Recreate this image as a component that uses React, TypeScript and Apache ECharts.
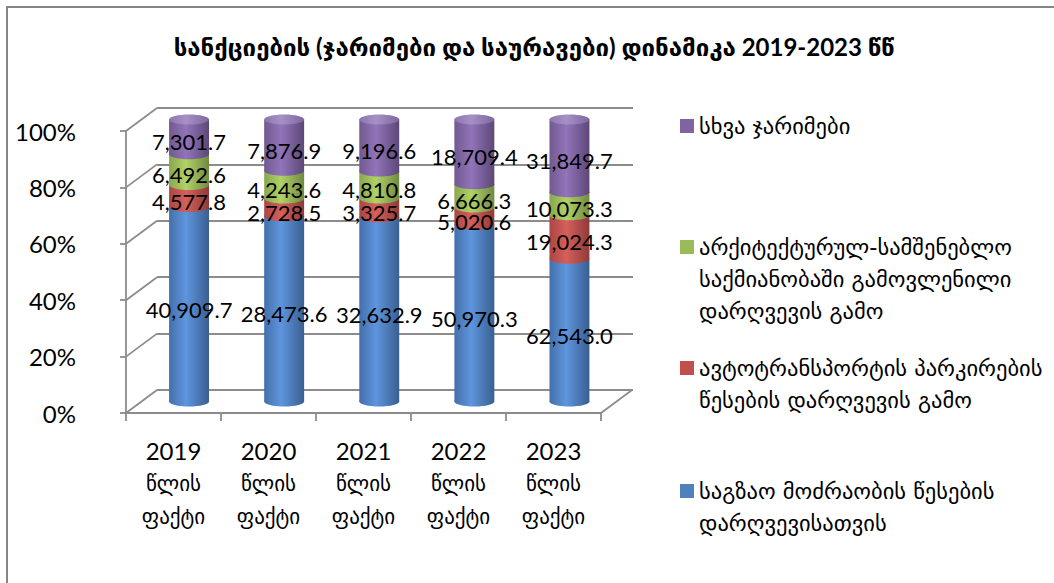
import React, { useEffect, useRef } from 'react';
import * as echarts from 'echarts';

// ---------- data ----------
const categories = ['2019', '2020', '2021', '2022', '2023'];
const categorySuffix = ['წლის', 'ფაქტი'];
const yTicks = [0, 20, 40, 60, 80, 100];

const seriesNames = [
  'საგზაო მოძრაობის წესების\nდარღვევისათვის',
  'ავტოტრანსპორტის პარკირების\nწესების დარღვევის გამო',
  'არქიტექტურულ-სამშენებლო\nსაქმიანობაში გამოვლენილი\nდარღვევის გამო',
  'სხვა ჯარიმები',
];
const roadTraffic = [40909.7, 28473.6, 32632.9, 50970.3, 62543.0];
const parking = [4577.8, 2728.5, 3325.7, 5020.6, 19024.3];
const construction = [6492.6, 4243.6, 4810.8, 6666.3, 10073.3];
const otherFines = [7301.7, 7876.9, 9196.6, 18709.4, 31849.7];
const allSeries = [roadTraffic, parking, construction, otherFines];

const titleText = 'სანქციების (ჯარიმები და საურავები) დინამიკა 2019-2023 წწ';

// ---------- styling ----------
const palette = [
  { base: '#4f81bd', stops: ['#4470ab', '#5e95dd', '#3a5f92'] },
  { base: '#c0504d', stops: ['#aa4644', '#d65f5c', '#8e3b39'] },
  { base: '#9bbb59', stops: ['#89a64e', '#b0d267', '#718a40'] },
  { base: '#8064a2', stops: ['#71598f', '#9274ba', '#5c4876'] },
];
const capStops = ['#8d76ad', '#a690c6', '#7f67a0'];
const GRID_COLOR = '#8c8c8c';
const NUM_FONT = 'Lato, "DejaVu Sans", sans-serif';
const GEO_FONT = '"DejaVu Sans", sans-serif';

const FRONT = { left: 126, top: 131, width: 475, height: 282 };
const BACK = { left: 157, top: 108, width: 476, height: 282 };
const MID = {
  left: (FRONT.left + BACK.left) / 2,
  top: (FRONT.top + BACK.top) / 2,
  width: (FRONT.width + BACK.width) / 2,
  height: 282,
};
const DX = BACK.left - FRONT.left;
const DY = BACK.top - FRONT.top;

const fmt = (v: number) =>
  v.toLocaleString('en-US', { minimumFractionDigits: 1, maximumFractionDigits: 1 });

const grad = (s: string[]) =>
  new echarts.graphic.LinearGradient(0, 0, 1, 0, [
    { offset: 0, color: s[0] },
    { offset: 0.42, color: s[1] },
    { offset: 1, color: s[2] },
  ]);

function buildStacked() {
  const totals = categories.map((_, i) => allSeries.reduce((a, s) => a + s[i], 0));
  const cum = categories.map(() => 0);
  return allSeries.map((s) =>
    s.map((v, i) => {
      const start = cum[i];
      cum[i] = start + (v / totals[i]) * 100;
      return [i, start, cum[i], v];
    })
  );
}

export default function App() {
  const ref = useRef<HTMLDivElement>(null);

  useEffect(() => {
    if (!ref.current) return;
    const chart = echarts.init(ref.current, null, { renderer: 'svg' });
    const stacked = buildStacked();

    const cylinderSeries = stacked.map((data, k) => ({
      type: 'custom',
      name: seriesNames[k],
      xAxisIndex: 2,
      yAxisIndex: 2,
      itemStyle: { color: palette[k].base },
      encode: { x: 0, y: [1, 2] },
      data,
      renderItem: (params: any, api: any) => {
        const i = api.value(0);
        const start = api.value(1);
        const end = api.value(2);
        const raw = api.value(3);
        const pb = api.coord([i, start]);
        const pt = api.coord([i, end]);
        const bw = api.size([1, 0])[0] * 0.42;
        const rx = bw / 2;
        const ry = 5;
        const cx = pb[0];
        const fill = grad(palette[k].stops);
        const children: any[] = [
          {
            type: 'rect',
            shape: { x: cx - rx, y: pt[1], width: bw, height: pb[1] - pt[1] },
            style: { fill },
            z2: k * 3,
          },
          {
            type: 'ellipse',
            shape: { cx, cy: pb[1], rx, ry },
            style: { fill },
            z2: k * 3,
          },
        ];
        if (end >= 99.999) {
          children.push({
            type: 'ellipse',
            shape: { cx, cy: pt[1], rx, ry },
            style: { fill: grad(capStops) },
            z2: k * 3 + 1,
          });
        }
        children.push({
          type: 'text',
          x: cx,
          y: (pb[1] + pt[1]) / 2 + 5,
          style: {
            text: fmt(raw),
            fill: '#000',
            fontFamily: NUM_FONT,
            fontSize: 22,
            align: 'center',
            verticalAlign: 'middle',
          },
          z2: 50,
        });
        return { type: 'group', children };
      },
    }));

    const wallSeries = {
      type: 'custom',
      name: 'walls',
      xAxisIndex: 1,
      yAxisIndex: 1,
      silent: true,
      data: yTicks.map((v) => [0, v]),
      encode: { x: 0, y: 1 },
      renderItem: (params: any, api: any) => {
        const cs = params.coordSys;
        const y = api.coord([0, api.value(1)])[1];
        const children: any[] = [
          {
            type: 'line',
            shape: { x1: cs.x, y1: y, x2: cs.x + DX, y2: y + DY },
            style: { stroke: GRID_COLOR, lineWidth: 1.8 },
          },
        ];
        if (api.value(1) === 0) {
          children.push({
            type: 'line',
            shape: { x1: cs.x + cs.width, y1: y, x2: cs.x + cs.width + DX, y2: y + DY },
            style: { stroke: GRID_COLOR, lineWidth: 1.8 },
          });
        }
        return { type: 'group', children };
      },
    };

    const legendOrder = [3, 2, 1, 0];
    const legendFirstLine = [126, 247, 368, 491];
    const LH = 32;
    const ICON = 14;

    const option: any = {
      animation: false,
      backgroundColor: '#fff',
      title: {
        text: titleText,
        left: 534,
        textAlign: 'center',
        top: 31,
        padding: 0,
        textStyle: {
          fontFamily: NUM_FONT,
          fontWeight: 'bold',
          fontSize: 24,
          lineHeight: 30,
          color: '#000',
        },
      },
      graphic: [
        {
          type: 'rect',
          silent: true,
          z: -10,
          shape: { x: 7, y: 7, width: 1200, height: 700 },
          style: { fill: 'none', stroke: '#868686', lineWidth: 2 },
        },
      ],
      legend: legendOrder.map((k, j) => {
        const lines = seriesNames[k].split('\n').length;
        const h = ICON + (lines - 1) * LH;
        return {
          data: [seriesNames[k]],
          left: 680,
          top: legendFirstLine[j] - LH / 2,
          orient: 'vertical',
          padding: 0,
          itemWidth: ICON,
          itemHeight: h,
          icon: `path://M0,0H${ICON}V${ICON}H0Z M0,${h - 0.01}H${ICON}V${h}H0Z`,
          selectedMode: false,
          textStyle: {
            fontFamily: GEO_FONT,
            fontSize: 22.5,
            lineHeight: LH,
            color: '#000',
          },
        };
      }),
      grid: [
        { ...BACK, containLabel: false },
        { ...FRONT, containLabel: false },
        { ...MID, containLabel: false },
      ],
      xAxis: [
        { gridIndex: 0, type: 'category', data: categories, show: false },
        {
          gridIndex: 1,
          type: 'category',
          data: categories,
          axisLine: { show: true, lineStyle: { color: GRID_COLOR, width: 1.8 } },
          axisTick: { show: true, length: 8, lineStyle: { color: GRID_COLOR, width: 1.8 } },
          splitLine: { show: false },
          axisLabel: {
            interval: 0,
            margin: 21,
            formatter: (v: string) =>
              `{y|${v}}\n` + categorySuffix.map((s) => `{g|${s}}`).join('\n'),
            rich: {
              y: { fontFamily: NUM_FONT, fontSize: 24, lineHeight: 33, color: '#000' },
              g: { fontFamily: GEO_FONT, fontSize: 21, lineHeight: 33, color: '#000' },
            },
          },
        },
        { gridIndex: 2, type: 'category', data: categories, show: false },
      ],
      yAxis: [
        {
          gridIndex: 0,
          type: 'value',
          min: 0,
          max: 100,
          interval: 20,
          axisLabel: { show: false },
          axisLine: { show: false },
          axisTick: { show: false },
          splitLine: { show: true, lineStyle: { color: GRID_COLOR, width: 1.8 } },
        },
        {
          gridIndex: 1,
          type: 'value',
          min: 0,
          max: 100,
          interval: 20,
          splitLine: { show: false },
          axisLine: { show: true, lineStyle: { color: GRID_COLOR, width: 1.8 } },
          axisTick: { show: true, length: 6, lineStyle: { color: GRID_COLOR, width: 1.8 } },
          axisLabel: {
            margin: 50,
            formatter: '{value}%',
            fontFamily: NUM_FONT,
            fontSize: 24,
            color: '#000',
          },
        },
        { gridIndex: 2, type: 'value', min: 0, max: 100, interval: 20, show: false },
      ],
      series: [wallSeries, ...cylinderSeries],
    };

    chart.setOption(option);
    return () => chart.dispose();
  }, []);

  return (
    <div
      ref={ref}
      style={{ position: 'absolute', left: 0, top: 0, width: 1054, height: 583, background: '#fff' }}
    />
  );
}
